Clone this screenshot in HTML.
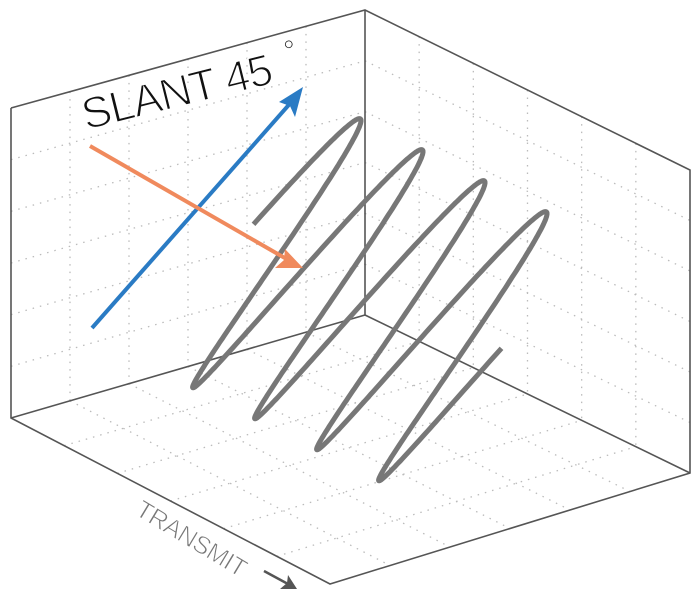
<!DOCTYPE html>
<html><head><meta charset="utf-8"><style>
html,body{margin:0;padding:0;background:#fff;}
svg{display:block;}
</style></head><body>
<svg id="s" width="700" height="600" viewBox="0 0 700 600" xmlns="http://www.w3.org/2000/svg">
<g id="grid" stroke="#bbb" stroke-width="1.3" stroke-dasharray="1.5 6" fill="none"></g>
<g stroke="#555" stroke-width="1.6" fill="none">
<polyline points="11,108 365,10 690,170 690,473 330,584 11,418 11,108"/>
<line x1="365" y1="10" x2="365" y2="315"/>
<line x1="365" y1="315" x2="11" y2="418"/>
<line x1="365" y1="315" x2="690" y2="473"/>
</g>
<path id="spiral" fill="none" stroke="#777" stroke-width="5" stroke-linecap="butt" stroke-linejoin="round"/>
<line x1="92" y1="328" x2="294" y2="99" stroke="#2a7bc4" stroke-width="4"/>
<polygon points="303,87 279,102 290,106 295,117" fill="#2a7bc4"/>
<line x1="90" y1="146" x2="290" y2="261" stroke="#f08a5d" stroke-width="4"/>
<polygon points="303,268 275,268 284,260 285,249" fill="#f08a5d"/>
<text x="0" y="0" transform="translate(86,130) rotate(-14)" font-family="Liberation Sans, sans-serif" font-size="44" fill="#111" stroke="#fff" stroke-width="1.4" letter-spacing="-1">SLANT 45</text>
<text x="0" y="0" transform="translate(287,62) rotate(-14)" font-family="Liberation Sans, sans-serif" font-size="30" fill="#111" stroke="#fff" stroke-width="0.8">°</text>
<text x="0" y="0" transform="translate(134,514) rotate(31)" font-family="Liberation Sans, sans-serif" font-size="25" fill="#777" stroke="#fff" stroke-width="0.8" letter-spacing="-0.5">TRANSMIT</text>
<line x1="264" y1="571" x2="288" y2="584" stroke="#555" stroke-width="2.5"/>
<polygon points="297,589 280,589 287,583 288,575" fill="#555"/>
</svg>
<script>
var g=document.getElementById('grid');
function L(a,b){var l=document.createElementNS('http://www.w3.org/2000/svg','line');l.setAttribute('x1',a[0]);l.setAttribute('y1',a[1]);l.setAttribute('x2',b[0]);l.setAttribute('y2',b[1]);g.appendChild(l);}
function lerp(a,b,t){return [a[0]+(b[0]-a[0])*t,a[1]+(b[1]-a[1])*t];}
function face(p0,p1,p2,p3,n,m){
 for(var i=1;i<n;i++){var t=i/n;L(lerp(p0,p1,t),lerp(p3,p2,t));}
 for(var j=1;j<m;j++){var t=j/m;L(lerp(p0,p3,t),lerp(p1,p2,t));}
}
face([11,108],[365,10],[365,315],[11,418],6,6);
face([365,10],[690,170],[690,473],[365,315],6,6);
face([11,418],[365,315],[690,473],[330,584],6,6);
var C=[262,246],a=[62,31],u=[99,-126],v=[-7,14];
var d='';
for(var i=0;i<=800;i++){
 var t=-0.25+4*i/800, c=Math.cos(2*Math.PI*t), s=Math.sin(2*Math.PI*t);
 var x=C[0]+a[0]*t+u[0]*c+v[0]*s, y=C[1]+a[1]*t+u[1]*c+v[1]*s;
 d+=(i?' L':'M')+x.toFixed(1)+','+y.toFixed(1);
}
document.getElementById('spiral').setAttribute('d',d);
</script>
</body></html>
